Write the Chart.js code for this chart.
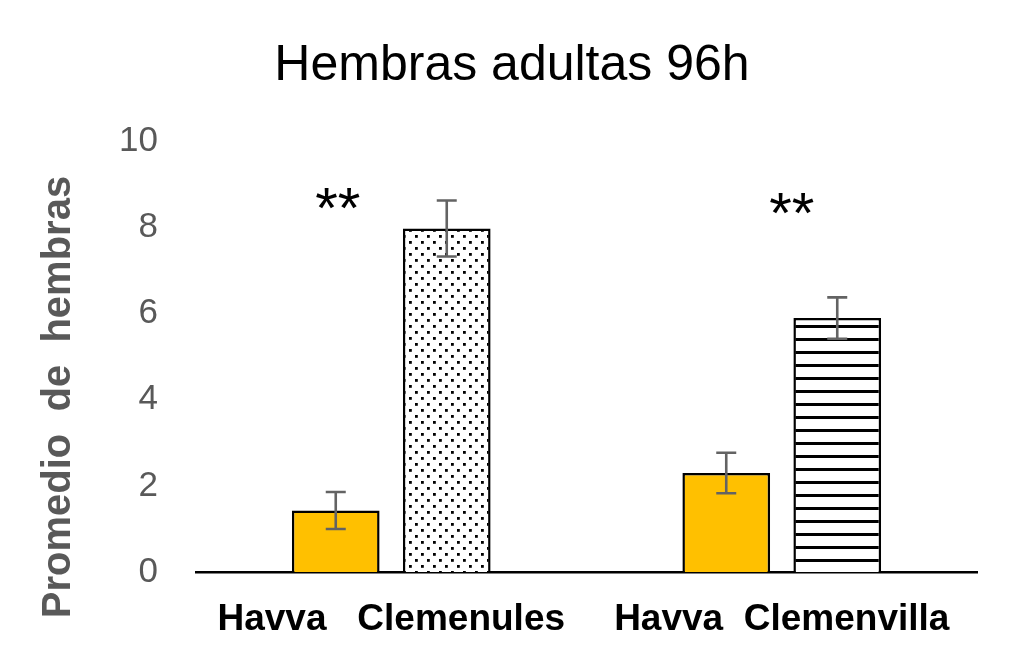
<!DOCTYPE html>
<html>
<head>
<meta charset="utf-8">
<script src="https://cdn.jsdelivr.net/npm/chart.js@4.4.1/dist/chart.umd.min.js"></script>
<style>
  html, body { margin: 0; padding: 0; background: #fff; }
  #wrap { width: 1024px; height: 671px; }
</style>
</head>
<body>
<div id="wrap"><canvas id="c" width="1024" height="671"></canvas></div>
<script>
// ---- data ----
const categories = ['Havva   Clemenules', 'Havva  Clemenvilla'];
const havvaValues = [1.43, 2.30];
const havvaErrors = [0.43, 0.47];
const cultivarValues = [7.98, 5.90];
const cultivarErrors = [0.65, 0.48];
const yTicks = [0, 2, 4, 6, 8, 10];
const sigLabels = ['**', '**'];
const sigLevels = [8.65, 8.52];

const FONT = "'Liberation Sans', Arial, sans-serif";

function makeDots() {
  const c = document.createElement('canvas');
  c.width = 12; c.height = 12;
  const g = c.getContext('2d');
  g.fillStyle = '#fff'; g.fillRect(0, 0, 12, 12);
  g.fillStyle = '#000';
  g.fillRect(1, 1, 2.8, 2.8);
  g.fillRect(7, 7, 2.8, 2.8);
  return document.getElementById('c').getContext('2d').createPattern(c, 'repeat');
}
function makeStripes() {
  const c = document.createElement('canvas');
  c.width = 8; c.height = 13;
  const g = c.getContext('2d');
  g.fillStyle = '#fff'; g.fillRect(0, 0, 8, 13);
  g.fillStyle = '#000';
  g.fillRect(0, 0, 8, 3);
  return document.getElementById('c').getContext('2d').createPattern(c, 'repeat');
}

const errorBars = {
  id: 'errorBars',
  afterDatasetsDraw(chart) {
    const ctx = chart.ctx;
    const ys = chart.scales.y;
    const errs = [havvaErrors, cultivarErrors];
    ctx.save();
    ctx.strokeStyle = '#636363';
    ctx.lineWidth = 2.6;
    chart.data.datasets.forEach((ds, i) => {
      const meta = chart.getDatasetMeta(i);
      meta.data.forEach((bar, j) => {
        const v = ds.data[j], e = errs[i][j];
        const x = bar.x;
        const yt = ys.getPixelForValue(v + e);
        const yb = ys.getPixelForValue(v - e);
        ctx.beginPath();
        ctx.moveTo(x, yt); ctx.lineTo(x, yb);
        ctx.moveTo(x - 10, yt); ctx.lineTo(x + 10, yt);
        ctx.moveTo(x - 10, yb); ctx.lineTo(x + 10, yb);
        ctx.stroke();
      });
    });
    ctx.restore();
  }
};

const extras = {
  id: 'extras',
  afterDraw(chart) {
    const ctx = chart.ctx;
    const ys = chart.scales.y;
    ctx.save();
    // significance marks
    ctx.fillStyle = '#000';
    ctx.font = '58px ' + FONT;
    ctx.textAlign = 'center';
    ctx.textBaseline = 'middle';
    const m0 = chart.getDatasetMeta(0).data[0];
    const m1a = chart.getDatasetMeta(0).data[1];
    const m1b = chart.getDatasetMeta(1).data[1];
    const xs = [m0.x + 2, (m1a.x + m1b.x) / 2 + 10];
    sigLabels.forEach((t, i) => {
      ctx.fillText(t, xs[i], ys.getPixelForValue(sigLevels[i]) + 12);
    });
    // y-axis title
    ctx.translate(59, 397);
    ctx.rotate(-Math.PI / 2);
    ctx.fillStyle = '#595959';
    ctx.font = 'bold 40px ' + FONT;
    ctx.fillText('Promedio  de  hembras', 0, 0);
    ctx.restore();
  }
};

new Chart(document.getElementById('c'), {
  type: 'bar',
  data: {
    labels: categories,
    datasets: [
      {
        label: 'Havva',
        data: havvaValues,
        backgroundColor: '#FFC000',
        borderColor: '#000',
        borderWidth: 2.5,
        categoryPercentage: 0.5685,
        barPercentage: 0.79
      },
      {
        label: 'Cultivar',
        data: cultivarValues,
        backgroundColor: [makeDots(), makeStripes()],
        borderColor: '#000',
        borderWidth: 2.5,
        categoryPercentage: 0.5685,
        barPercentage: 0.79
      }
    ]
  },
  options: {
    responsive: false,
    animation: false,
    devicePixelRatio: 1,
    layout: { padding: { left: 0, right: 0, top: 0, bottom: 0 } },
    plugins: {
      legend: { display: false },
      tooltip: { enabled: false },
      title: {
        display: true,
        text: 'Hembras adultas 96h',
        color: '#000',
        font: { family: FONT, size: 50, weight: 'normal', lineHeight: 1.2 },
        padding: { top: 36, bottom: 45.6 }
      }
    },
    scales: {
      x: {
        grid: { display: false, drawTicks: false },
        border: { display: true, color: '#000', width: 2.5 },
        ticks: {
          color: '#000',
          font: { family: FONT, size: 37, weight: 'bold', lineHeight: 1.2 },
          padding: 26,
          maxRotation: 0,
          autoSkip: false
        },
        afterFit(s) { s.height = 99; }
      },
      y: {
        min: 0, max: 10,
        grid: { display: false, drawTicks: false },
        border: { display: false },
        afterBuildTicks(s) { s.ticks = yTicks.map(v => ({ value: v })); },
        ticks: {
          color: '#595959',
          font: { family: FONT, size: 35, lineHeight: 1.2 },
          padding: 38
        },
        afterFit(s) { s.width = 196; }
      },
      yR: {
        position: 'right',
        display: true,
        grid: { display: false, drawTicks: false },
        border: { display: false },
        ticks: { display: false },
        afterFit(s) { s.width = 47; }
      }
    }
  },
  plugins: [errorBars, extras]
});
</script>
</body>
</html>
